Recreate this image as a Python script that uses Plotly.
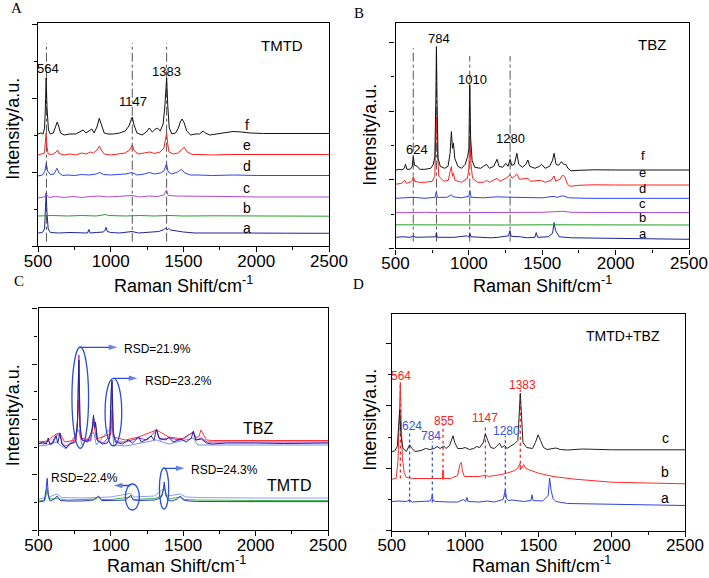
import plotly.graph_objects as go

# ---- Panel A: TMTD spectra (wavenumber, intensity a.u.) ----
tmtd_f = [(500,112),(520,113),(535,112),(545,118),(550,135),(556,168),(562,138),(572,116),(585,112),(605,113),
          (620,119),(632,124),(642,120),(655,113),(680,111),(720,112),(760,112),(790,114),(810,116),(830,113),
          (850,115),(870,117),(885,113),(905,119),(921,127.7),(935,121),(955,113),(980,112),(1020,112),(1060,113),
          (1100,115),(1125,120),(1140,127),(1148,129),(1160,121),(1180,113),(1215,111),(1245,114),(1265,118),
          (1285,114),(1300,116),(1320,118),(1340,115),(1360,122),(1372,140),(1384,168),(1392,140),(1402,118),
          (1420,112),(1445,113),(1465,118),(1478,124),(1490,127),(1505,123),(1522,115),(1550,111),(1580,112),
          (1610,112),(1635,115),(1650,113),(1680,111),(1720,112),(1780,113),(1840,114.5),(1900,114),(1960,113),
          (2050,112.5),(2200,112.5),(2350,112.5),(2500,112.5)]
tmtd_e = [(500,91),(530,92),(545,93),(551,105),(556,113),(561,100),(570,92),(600,91.5),(625,94),(635,96),
          (645,92.5),(680,91),(720,92),(760,91),(800,93),(830,92),(860,94),(880,93),(905,96),(922,100),(935,96),
          (955,92),(1000,91),(1050,92),(1100,93),(1130,96),(1148,101),(1162,95),(1190,92),(1230,93),(1270,94),
          (1300,92.5),(1340,94),(1365,98),(1377,110),(1384,113),(1390,104),(1400,94),(1430,92),(1460,93),
          (1485,96),(1505,98.7),(1525,94),(1560,91.5),(1620,91.5),(1700,91),(1800,91.5),(2000,91.5),(2500,91.5)]
tmtd_d = [(500,70),(530,71),(548,75),(557,83),(566,75),(585,71.5),(610,72),(630,77.7),(645,73),(670,70.5),
          (700,71),(750,70.5),(800,71.5),(850,71),(900,72),(925,73.5),(950,71.5),(1000,71),(1050,71.5),(1100,72),
          (1148,73.5),(1180,71),(1230,72),(1265,73.5),(1300,72),(1340,73),(1365,75),(1383,82),(1395,74),
          (1420,72),(1460,74),(1485,76.7),(1510,73),(1550,71),(1600,71),(1700,70.5),(1850,71),(2000,70.5),(2500,70.5)]
tmtd_c = [(500,48),(540,49),(558,51.5),(575,48.5),(620,49.5),(680,48.5),(740,49.5),(800,48.5),(860,49.5),
          (920,50),(980,49),(1040,49.5),(1100,50),(1147,50.5),(1200,49),(1260,50),(1320,49.5),(1365,51),
          (1383,56),(1395,50.5),(1450,50),(1500,50),(1600,49.5),(1800,49.5),(2000,49),(2200,49),(2500,49)]
tmtd_b = [(500,30),(600,30.5),(700,30),(800,30.5),(900,30),(965,31.5),(985,30.5),(1100,30),(1200,30.5),
          (1300,30),(1400,30.5),(1500,30),(1700,30.2),(2000,30),(2500,29.8)]
tmtd_a = [(500,13),(530,13.5),(545,17),(551,35),(556,53),(561,35),(570,17),(585,13.5),(640,13),(720,13.5),
          (800,13),(840,13),(850,16.5),(858,13),(900,13.5),(950,14),(962,16),(968,18.7),(976,14.5),(1000,13.5),
          (1060,13),(1110,13.5),(1147,14.5),(1190,13),(1260,13.5),(1330,14.5),(1365,16.5),(1378,18),(1388,16),
          (1398,17.5),(1410,16),(1450,15),(1500,14),(1580,13),(1700,13.2),(1900,13),(2200,12.8),(2500,12.7)]
tmtd_guides = [558, 1148, 1384]
tmtd_peaks = [("564", 571, 177.7), ("1147", 1155, 144.3), ("1383", 1380, 175)]
tmtd_letters = [("f", 121), ("e", 101), ("d", 80), ("c", 57.7), ("b", 37.7), ("a", 17.7)]

# ---- Panel B: TBZ spectra ----
tbz_f = [(500,78),(520,79),(545,78.5),(560,80),(568,84),(578,79),(600,79),(614,82),(621,91.7),(630,83),
         (648,82),(665,79),(700,79),(740,80),(758,84),(768,92),(775,150),(779,201.7),(783,150),(790,90),
         (805,82),(835,80),(858,82),(872,95),(881,116.7),(888,100),(895,105),(904,90),(925,82),(950,80),
         (975,84),(992,92),(1000,100),(1006,163.3),(1012,110),(1022,88),(1040,81),(1080,80),(1100,82),
         (1120,84),(1140,80),(1170,82),(1192,89),(1205,82),(1230,81),(1252,85),(1267,82),(1281,89),(1292,83),
         (1310,84),(1327,95),(1340,84),(1365,81),(1388,84),(1402,88.3),(1415,82),(1450,80),(1480,82),
         (1495,84),(1520,80),(1550,82),(1570,88),(1581,95),(1594,84),(1612,83),(1631,86.7),(1645,84),
         (1660,84),(1675,80),(1695,77.5),(1750,78),(1850,78.5),(2000,78.3),(2200,78.3),(2500,78.3)]
tbz_e = [(500,64),(540,65),(563,68),(575,65),(600,66),(614,68),(621,71.7),(632,67),(660,66),(700,66),
         (750,67),(768,72),(774,110),(779,131.7),(785,100),(795,72),(830,67),(860,68),(874,78),(881,81.7),
         (888,72),(895,75),(905,68),(950,66),(990,70),(1000,80),(1007,111.7),(1014,85),(1025,70),(1060,66),
         (1100,66),(1120,68),(1140,66),(1192,70),(1210,67),(1252,70),(1281,73.3),(1295,70),(1327,74.3),
         (1345,69),(1402,70),(1420,67),(1490,68),(1520,66),(1560,68),(1581,72.3),(1592,67),(1620,69),
         (1640,73.3),(1655,71),(1672,64),(1690,62),(1750,63),(1850,63.5),(2000,63.3),(2200,63.3),(2500,63.3)]
tbz_d = [(500,50),(560,50.5),(621,51),(700,50),(770,51),(775,55),(779,56.7),(785,51),(850,51),(881,53.5),
         (892,51.5),(950,50.5),(1000,52),(1007,57.7),(1015,51),(1100,50.5),(1192,51.5),(1300,51),(1402,51),
         (1500,50.5),(1581,52),(1600,51),(1640,52.5),(1680,50.5),(1800,50),(2000,50),(2500,50)]
tbz_c = [(500,35.5),(600,35.8),(700,36),(800,35.6),(900,35.7),(1050,36),(1200,36),(1350,35.8),(1500,36),
         (1640,37),(1700,36),(1850,35.8),(2000,35.7),(2500,35.7)]
tbz_b = [(500,23.5),(750,23.3),(1000,23.5),(1250,23.3),(1500,23.5),(2000,23.3),(2500,23.3)]
tbz_a = [(500,11),(550,11.5),(600,11),(621,12.3),(640,11),(700,11),(774,11.5),(779,15.7),(785,11),(900,11),
         (990,12.5),(1000,11),(1007,15),(1014,11.5),(1100,11),(1150,10.5),(1200,11),(1270,12.5),(1280,17.7),
         (1288,12),(1350,11.5),(1400,10.5),(1450,11),(1459,15.7),(1468,11),(1540,11.5),(1570,15),(1581,25.7),
         (1590,18),(1600,15),(1615,11.5),(1700,10.5),(2000,10),(2500,9)]
tbz_guides = [621, 779, 1006, 1281]
tbz_guide_tops = [200, 200, 192.3, 192.3]
tbz_peaks = [("784", 798, 210), ("1010", 1026, 169.3), ("624", 644, 99.3), ("1280", 1287, 110)]
tbz_letters = [("f", 93.3), ("e", 75.6), ("d", 60), ("c", 45), ("b", 31), ("a", 15)]

# ---- Panel C: repeatability ----
rep_tbz_navy = [(500,86),(530,88),(555,86),(567,92),(578,86),(600,87),(622,94),(633,87),(648,97),(662,86),
                (690,82),(720,86),(755,88),(770,110),(779,170),(787,105),(800,90),(840,88),(870,100),(880,115),
                (887,102),(894,108),(905,90),(940,86),(975,87),(992,92),(1002,140),(1008,150),(1015,100),
                (1030,88),(1080,86),(1120,90),(1150,87),(1192,93),(1210,88),(1250,91),(1278,94),(1298,90),
                (1315,101),(1332,92),(1380,90),(1400,93),(1430,88),(1485,91),(1520,88),(1556,92),(1570,99),
                (1585,90),(1625,91),(1660,87),(1700,86),(1800,87),(2000,87),(2200,86.5),(2500,87)]
rep_tbz_purple = [(500,87),(540,86),(567,90),(585,85),(622,95),(648,95),(665,86),(690,84),(740,88),(768,100),
                  (779,175),(788,95),(805,90),(860,89),(880,112),(894,106),(910,89),(950,87),(995,95),(1008,148),
                  (1018,95),(1040,88),(1100,88),(1192,92),(1250,90),(1315,100),(1340,90),(1400,92),(1480,90),
                  (1570,98),(1590,90),(1625,92),(1665,88),(1700,88),(1900,88),(2200,87.5),(2500,88)]
rep_tbz_red = [(500,88),(560,89),(622,96),(648,97),(680,88),(760,90),(779,130),(790,92),(860,90),(880,108),
               (900,91),(1000,96),(1008,120),(1018,93),(1100,90),(1192,93),(1315,100),(1400,93),(1500,91),
               (1570,98),(1590,92),(1610,94),(1622,100),(1636,96),(1660,90),(1700,89.5),(2000,89.5),(2500,89.5)]
rep_tbz_light = [(500,84),(560,85),(622,88),(690,81),(779,100),(800,85),(880,98),(900,85),(1008,104),(1020,85),
                 (1100,84),(1315,90),(1400,86),(1570,92),(1600,85),(1700,85),(2000,85),(2500,85)]
rep_tmtd_light = [(500,31),(545,32),(560,42),(572,33),(628,36),(660,32.5),(800,32),(1000,33),(1138,36.7),
                  (1160,33),(1300,34),(1369,42),(1390,34),(1479,36),(1520,33),(1600,32.5),(2000,32),(2500,32)]
rep_tmtd_green = [(500,29),(545,30),(560,40),(572,31),(628,31.5),(700,30),(900,31),(915,33),(935,30.5),
                  (1000,30.5),(1138,33),(1160,30.5),(1300,31.5),(1355,34),(1369,45),(1380,34),(1400,31),
                  (1479,33),(1510,30.5),(1600,30),(2000,29.5),(2500,29.5)]
rep_tmtd_blue = [(500,28),(540,29),(552,40),(560,51.7),(568,35),(580,29),(610,31),(628,34),(650,29.5),(700,29),
                 (800,29),(880,30),(915,34),(935,29.5),(1000,29.5),(1100,30),(1125,33),(1138,35),(1155,30),
                 (1200,29.5),(1300,30),(1345,32),(1362,40),(1369,48),(1378,36),(1395,30),(1420,29),(1460,31),
                 (1479,34),(1500,30),(1540,29),(1600,28.5),(1800,28.4),(2000,28.3),(2500,28.3)]
rsd_ellipse_x = [(731, 846), (960, 1075), (1100, 1197), (1335, 1400)]
rsd_ellipse_y = [(81.7, 183), (84, 151.7), (20, 46), (21, 62)]
rsd_arrows = [(787, 1045, 182.7), (1017, 1183, 151.7), (1135, 1020, 44.5), (1367, 1508, 61.7)]
rsd_texts = [("RSD=21.9%", 1080, 181, "left"), ("RSD=23.2%", 1220, 149, "left"),
             ("RSD=22.4%", 820, 52, "center"), ("RSD=24.3%", 1540, 60, "left")]

# ---- Panel D: mixture ----
mix_c = [(500,79),(520,79.5),(538,84),(547,100),(555,120.7),(563,95),(577,82),(600,79),(622,85.7),(638,82),
         (660,79),(700,80),(730,82),(760,81),(790,82),(810,84),(830,82),(855,84.5),(870,82),(895,85),
         (918,94.7),(930,88),(950,82),(980,82),(1000,83),(1030,81),(1060,82),(1080,84),(1100,83),(1125,88),
         (1139,96.7),(1155,90),(1175,83),(1200,82),(1236,87.3),(1250,83),(1270,85),(1285,82),(1310,84),
         (1340,87),(1360,90),(1370,115),(1377,137.3),(1385,115),(1395,88),(1420,83),(1460,82),(1480,88),
         (1498,95.7),(1515,90),(1535,83),(1560,81),(1600,82),(1620,82.5),(1650,81),(1700,80.5),(1800,81.5),
         (1900,81),(2000,80.7),(2500,80.7)]
mix_b = [(500,51.3),(530,52),(543,70),(551,110),(559,148),(565,110),(573,72),(585,58),(600,53),(650,52),
         (700,52),(800,51.5),(845,52),(850,60.7),(856,52),(900,52),(950,55),(965,66),(975,68),(982,60),
         (995,54),(1050,54),(1100,54),(1139,55.5),(1160,54),(1200,55),(1250,56),(1300,58),(1340,60),
         (1362,63),(1373,66.7),(1385,62),(1400,66),(1410,63),(1430,61),(1470,59),(1500,57.3),(1600,54),
         (1750,51.3),(2000,48.3),(2250,47.3),(2500,46.7)]
mix_a = [(500,29),(550,29.5),(600,29),(622,30.5),(640,28.5),(700,29),(760,29.5),(772,32),(777,35.7),(782,30),
         (800,29),(900,28.5),(950,28.5),(990,31),(1005,29),(1014,33),(1020,29),(1100,28.5),(1150,29.5),
         (1200,28.5),(1260,31),(1275,40.7),(1283,32),(1295,30),(1320,30.5),(1400,29),(1450,30),(1457,35.7),
         (1464,30),(1530,29.5),(1567,35),(1577,52.3),(1587,40),(1600,32),(1620,29),(1700,27),(2000,26),(2500,25)]
mix_guides = [559, 622, 777, 850, 1139, 1275, 1377]
mix_guide_lo = [52, 28, 28, 50.7, 52, 27.3, 60.7]
mix_guide_hi = [145.5, 99, 89, 105.7, 105.7, 94.7, 140.7]
mix_guide_src = ["TMTD", "TBZ", "TBZ", "TMTD", "TMTD", "TBZ", "TMTD"]
mix_peaks = [("564", 565, 154.8, "TMTD"), ("624", 638, 104.5, "TBZ"), ("784", 766, 94.5, "TBZ"),
             ("855", 855, 109.5, "TMTD"), ("1147", 1138, 112.8, "TMTD"), ("1280", 1281, 99.8, "TBZ"),
             ("1383", 1390, 145.5, "TMTD")]
mix_letters = [("c", 92.2), ("b", 58.8), ("a", 32.8)]

# ---- layout (pixel boxes of each panel in the 709x578 page) ----
W, H = 709, 578
BOXES = {1: (38, 329, 23, 246), 2: (395.5, 689, 23, 248.3),
         3: (38.5, 328, 308, 530), 4: (391.7, 685, 314, 530.5)}
YTICK = {1: 74, 2: 68.6, 3: 55.3, 4: 62.3}
SANS = "Liberation Sans, Arial, sans-serif"
SERIF = "Liberation Serif, Times New Roman, serif"
RED, BLUE_LBL, ARROW = "#ff2020", "#3553dc", "#2a4ed8"

fig = go.Figure()


def ax(n):
    return ("x", "y") if n == 1 else ("x%d" % n, "y%d" % n)


def add_curve(n, pts, color, width=1.0):
    xa, ya = ax(n)
    fig.add_scatter(x=[p[0] for p in pts], y=[p[1] for p in pts], mode="lines",
                    line=dict(color=color, width=width), xaxis=xa, yaxis=ya,
                    showlegend=False, hoverinfo="skip")


def add_vline(n, x, lo, hi, color, dash, width=1.0):
    xa, ya = ax(n)
    fig.add_scatter(x=[x, x], y=[lo, hi], mode="lines", line=dict(color=color, width=width, dash=dash),
                    xaxis=xa, yaxis=ya, showlegend=False, hoverinfo="skip")


def text(n, s, x, y, size, color="black", xanchor="center"):
    xa, ya = ax(n)
    fig.add_annotation(x=x, y=y, xref=xa, yref=ya, text=s, showarrow=False, xanchor=xanchor,
                       yanchor="middle", font=dict(family=SANS, size=size, color=color))


def page_text(s, px, py, size, family=SANS, angle=0):
    fig.add_annotation(x=px / W, y=1 - py / H, xref="paper", yref="paper", text=s, showarrow=False,
                       xanchor="center", yanchor="middle", textangle=angle,
                       font=dict(family=family, size=size, color="black"))


spec_colors = ["#111111", "#ff2020", "#2f45e6", "#b048d8", "#22a022", "#1c2496"]

# Panel A
for g in tmtd_guides:
    add_vline(1, g, 4.3, 203, "#555555", "dashdot")
for pts, c in zip([tmtd_a, tmtd_b, tmtd_c, tmtd_d, tmtd_e, tmtd_f], spec_colors[::-1]):
    add_curve(1, pts, c)
for s, x, y in tmtd_peaks:
    text(1, s, x, y, 13)
for s, y in tmtd_letters:
    text(1, s, 1934, y, 14)
text(1, "TMTD", 2179, 201, 15)

# Panel B
for g, t in zip(tbz_guides, tbz_guide_tops):
    add_vline(2, g, 6.7, t, "#555555", "dashdot")
for pts, c in zip([tbz_a, tbz_b, tbz_c, tbz_d, tbz_e, tbz_f], spec_colors[::-1]):
    add_curve(2, pts, c)
for s, x, y in tbz_peaks:
    text(2, s, x, y, 13)
for s, y in tbz_letters:
    text(2, s, 2186, y, 13)
text(2, "TBZ", 2246, 204.3, 15)

# Panel C
for pts, c in [(rep_tbz_light, "#7d8ce6"), (rep_tbz_red, "#ff3535"), (rep_tbz_purple, "#9b35c8"),
               (rep_tbz_navy, "#22229a"), (rep_tmtd_light, "#8fa0ea"), (rep_tmtd_green, "#4cb24c"),
               (rep_tmtd_blue, "#2a3cd6")]:
    add_curve(3, pts, c)
for (x0, x1), (y0, y1) in zip(rsd_ellipse_x, rsd_ellipse_y):
    fig.add_shape(type="circle", xref="x3", yref="y3", x0=x0, x1=x1, y0=y0, y1=y1,
                  line=dict(color=ARROW, width=1.3))
for tail, head, y in rsd_arrows:
    # arrow = line with an arrow marker at the head, oriented along the segment
    fig.add_scatter(x=[tail, head], y=[y, y], mode="lines+markers", xaxis="x3", yaxis="y3",
                    line=dict(color=ARROW, width=1.3),
                    marker=dict(symbol="arrow", angleref="previous", size=[0, 9], color=ARROW,
                                line=dict(width=0)),
                    showlegend=False, hoverinfo="skip")
for s, x, y, anc in rsd_texts:
    text(3, s, x, y, 12, xanchor=anc)
text(3, "TBZ", 2019, 101.7, 16)
text(3, "TMTD", 2230, 44, 16)

# Panel D
for g, lo, hi, src in zip(mix_guides, mix_guide_lo, mix_guide_hi, mix_guide_src):
    add_vline(4, g, lo, hi, RED if src == "TMTD" else BLUE_LBL, "dot", 1.3)
for pts, c in [(mix_a, "#3042e2"), (mix_b, "#ff2a2a"), (mix_c, "#222222")]:
    add_curve(4, pts, c)
for s, x, y, src in mix_peaks:
    text(4, s, x, y, 12, RED if src == "TMTD" else BLUE_LBL)
for s, y in mix_letters:
    text(4, s, 2364, y, 14)
text(4, "TMTD+TBZ", 2079, 194.8, 14)

# axes
for n, (l, r, t, b) in BOXES.items():
    suffix = "" if n == 1 else str(n)
    xa, ya = ax(n)
    fig.layout["xaxis" + suffix] = dict(
        domain=[l / W, r / W], anchor=ya, range=[500, 2500], tickmode="linear", tick0=500, dtick=500,
        ticks="outside", ticklen=5, tickwidth=1.2, tickcolor="black", showline=True, linecolor="black",
        linewidth=1.4, mirror=True, showgrid=False, zeroline=False, automargin=False,
        ticklabelstandoff=-6,
        tickfont=dict(family=SANS, size=17, color="black"),
        minor=dict(ticks="outside", ticklen=3, tickwidth=1, tickcolor="black", dtick=250, tick0=500))
    fig.layout["yaxis" + suffix] = dict(
        domain=[1 - b / H, 1 - t / H], anchor=xa, range=[0, b - t], tickmode="linear", tick0=0,
        dtick=YTICK[n], ticks="outside", ticklen=5, tickwidth=1.2, tickcolor="black",
        showticklabels=False, showline=True, linecolor="black", linewidth=1.4, mirror=True,
        showgrid=False, zeroline=False, automargin=False,
        minor=dict(ticks="outside", ticklen=3, tickwidth=1, tickcolor="black", dtick=YTICK[n] / 2, tick0=0))

# axis titles and panel letters
xtitle = "Raman Shift/cm<sup>-1</sup>"
page_text(xtitle, 183.5, 284, 18)
page_text(xtitle, 542, 284, 18)
page_text(xtitle, 176, 564, 18)
page_text(xtitle, 541, 564, 18)
page_text("Intensity/a.u.", 12.7, 129, 18, angle=-90)
page_text("Intensity/a.u.", 369.7, 135, 18, angle=-90)
page_text("Intensity/a.u.", 13.3, 415, 18, angle=-90)
page_text("Intensity/a.u.", 369.7, 420, 18, angle=-90)
page_text("A", 16, 8, 15, family=SERIF)
page_text("B", 359, 13.5, 15, family=SERIF)
page_text("C", 18.5, 281, 15, family=SERIF)
page_text("D", 358.5, 283.5, 15, family=SERIF)

fig.update_layout(width=W, height=H, autosize=False,
                  margin=dict(l=0, r=0, t=0, b=0, pad=0, autoexpand=False),
                  plot_bgcolor="white", paper_bgcolor="white", showlegend=False)

# the page's default body margin would shift the 709x578 figure; remove it
fig.write_html("out.html", config={"displayModeBar": False},
               post_script="document.body.style.margin='0';document.body.style.overflow='hidden';")
